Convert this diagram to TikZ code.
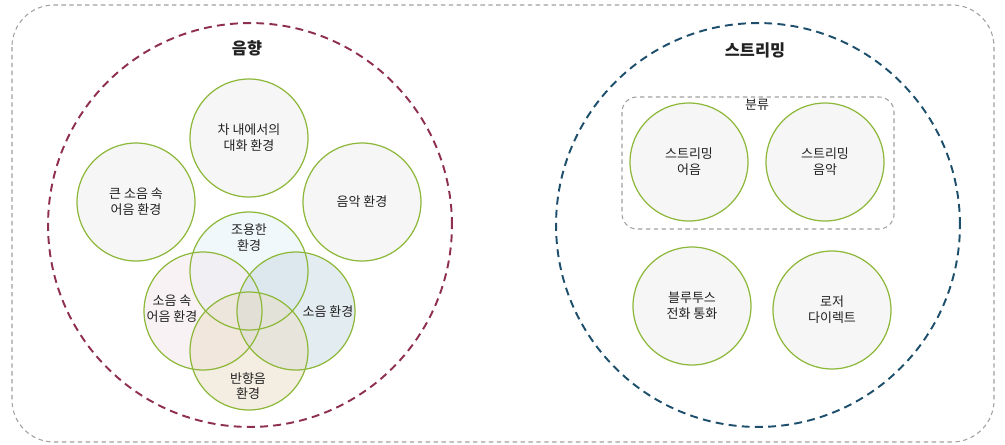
\documentclass[tikz,border=0pt]{standalone}
\usepackage{fontspec}
\setmainfont{Noto Sans CJK KR}
\definecolor{ringgreen}{HTML}{8DB83A}
\definecolor{bubblegray}{HTML}{F6F6F6}
\definecolor{textdark}{HTML}{222222}
\definecolor{framegray}{HTML}{A0A0A0}
\definecolor{soundred}{HTML}{8E2F4F}
\definecolor{streamblue}{HTML}{1D4F6C}
\definecolor{quietfill}{RGB}{227,242,247}
\definecolor{speechfill}{RGB}{242,230,235}
\definecolor{noisefill}{RGB}{200,217,227}
\definecolor{echofill}{RGB}{233,220,197}
\begin{document}
\begin{tikzpicture}[x=0.02cm, y=-0.02cm,
  topic/.style={circle, draw=ringgreen, line width=0.7pt, fill=bubblegray, minimum size=2.36cm, inner sep=0pt, align=center, text=textdark, font=\fontsize{7.4}{9}\selectfont},
  vennfill/.style={circle, minimum size=2.36cm, inner sep=0pt, fill opacity=0.5},
  vennring/.style={draw=ringgreen, line width=0.7pt},
  venntext/.style={align=center, text=textdark, font=\fontsize{7.4}{9}\selectfont},
  group/.style={circle, draw, line width=1.1pt, dash pattern=on 4.5pt off 3pt, minimum size=8.08cm, inner sep=0pt},
  grouptitle/.style={text=textdark, font=\bfseries\fontsize{9.3}{11}\selectfont},
  frame/.style={draw=framegray, line width=0.6pt, dash pattern=on 2.5pt off 2pt}]
\useasboundingbox (0,0) rectangle (1005,444);
\draw[frame, rounded corners=0.84cm] (12,5) rectangle (994,442);
% 음향
\node[group, draw=soundred] (sound) at (250,225) {};
\node[grouptitle] (soundtitle) at (247,48) {음향};
\node[topic] (car) at (249,138) {차 내에서의\\대화 환경};
\node[topic] (loudspeech) at (136,202) {큰 소음 속\\어음 환경};
\node[topic] (music) at (362,202) {음악 환경};
\node[vennfill, fill=quietfill] (quiet) at (249,271) {};
\node[vennfill, fill=speechfill] (speech) at (203,311) {};
\node[vennfill, fill=noisefill] (noise) at (296,311) {};
\node[vennfill, fill=echofill] (echo) at (249,351) {};
\draw[vennring] (quiet.center) circle[radius=1.18cm];
\draw[vennring] (speech.center) circle[radius=1.18cm];
\draw[vennring] (noise.center) circle[radius=1.18cm];
\draw[vennring] (echo.center) circle[radius=1.18cm];
\node[venntext] (quiettext) at (249,238) {조용한\\환경};
\node[venntext] (speechtext) at (172,309) {소음 속\\어음 환경};
\node[venntext] (noisetext) at (328,312) {소음 환경};
\node[venntext] (echotext) at (248,386) {반향음\\환경};
% 스트리밍
\node[group, draw=streamblue] (stream) at (758,225) {};
\node[grouptitle] (streamtitle) at (755,50) {스트리밍};
\draw[frame, rounded corners=0.3cm] (622,97) rectangle (894,229);
\node[venntext] (kind) at (757,105) {분류};
\node[topic] (streamspeech) at (689,162) {스트리밍\\어음};
\node[topic] (streammusic) at (825,162) {스트리밍\\음악};
\node[topic] (phone) at (692,306) {블루투스\\전화 통화};
\node[topic] (roger) at (832,310) {로저\\다이렉트};
\end{tikzpicture}
\end{document}
